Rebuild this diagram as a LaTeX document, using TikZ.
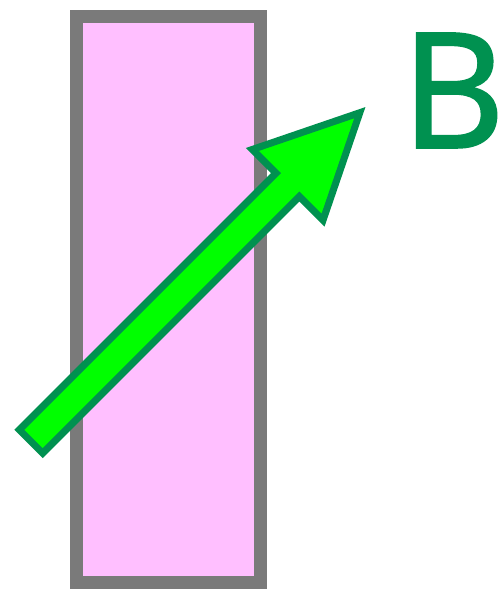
\documentclass[tikz,border=0pt]{standalone}
\usepackage{fontspec}
\newfontfamily\letterfont[RawFeature={embolden=1.6}]{Open Sans}
\definecolor{slabpink}{RGB}{255,191,255}
\definecolor{slabgray}{RGB}{122,122,122}
\definecolor{fieldgreen}{RGB}{0,255,0}
\definecolor{darkgreen}{RGB}{0,145,80}

\begin{document}
\begin{tikzpicture}[
  x=0.02cm, y=0.02cm,
  slab/.style={draw=slabgray, fill=slabpink, line width=0.26cm, line join=miter},
  fieldarrow/.style={draw=darkgreen, fill=fieldgreen, line width=0.14cm, line join=miter},
  fieldlabel/.style={text=darkgreen, inner sep=0pt, font=\letterfont\fontsize{91}{91}\selectfont},
]
\useasboundingbox (0,0) rectangle (500,589);

% --- Slab ---
\draw[slab] (76.5,6.5) rectangle (260.5,572.5);

% --- Field arrow (drawn along its own axis) ---
\begin{scope}[shift={(31,147.5)}, rotate=45]
  \draw[fieldarrow] (0,16.5) -- (363,16.5) -- (363,50) -- (465,0)
    -- (363,-50) -- (363,-16.5) -- (0,-16.5) -- cycle;
\end{scope}

% --- Label ---
\node[fieldlabel, anchor=base west] (lblB) at (401,441.5) {B};

\end{tikzpicture}
\end{document}
